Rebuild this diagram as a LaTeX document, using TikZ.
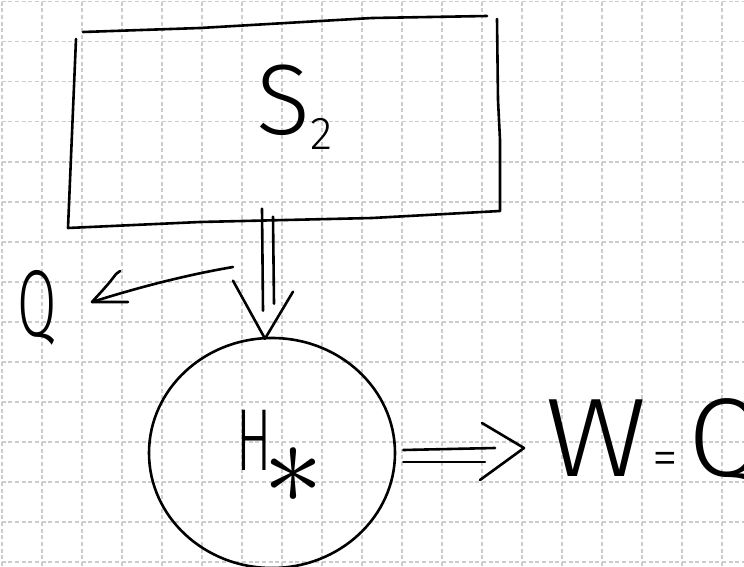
\RequirePackage{fix-cm}
\documentclass[tikz,border=0pt]{standalone}
\usepackage{fontspec}
\usepackage{graphicx}
\newfontfamily\hand{Fira Sans Light}
\usetikzlibrary{shapes.geometric,calc}
\tikzset{
  pen/.style={line width=2.6pt, line cap=round, line join=round, black},
  gridline/.style={line width=1.6pt, draw=gray!40, dash pattern=on 4pt off 2.67pt},
  txt/.style={inner sep=0pt, font=\hand}
}
\begin{document}
\begin{tikzpicture}[x=1pt,y=-1pt]
\useasboundingbox (0,0) rectangle (744,567);
\clip (0,0) rectangle (744,567);
\fill[white] (0,0) rectangle (744,567);
% grid paper
\foreach \i in {0,...,18} \draw[gridline] (1.7+40*\i,-38.3) -- (1.7+40*\i,600);
\foreach \j in {0,...,14} \draw[gridline] (-38.3,1.7+40*\j) -- (780,1.7+40*\j);

% box S2
\coordinate (btl) at (83,32);
\coordinate (btr) at (487,16);
\coordinate (brt) at (497,19);
\coordinate (bbr) at (500,211);
\coordinate (bbl) at (68,228);
\coordinate (blt) at (76,39);
\draw[pen] (btl) -- (200,28) -- (372,18) -- (btr);
\draw[pen] (brt) -- (498,100) -- (500,140) -- (bbr) -- (372,218) -- (200,222) -- (bbl) -- (blt);
\node[txt, anchor=base west] (s2) at (256,135)
  {\fontsize{100}{100}\selectfont S\raisebox{-15pt}{\fontsize{46}{46}\selectfont 2}};

% circle
\node[pen, draw, ellipse, minimum width=246pt, minimum height=230pt, inner sep=0pt] (eng) at (272,453) {};
\node[txt, anchor=base west] (hx) at (236,470)
  {\scalebox{0.6}[1]{\fontsize{88}{88}\selectfont H}\hspace{-8pt}\raisebox{-33pt}{\fontsize{120}{120}\selectfont$\ast$}};

% down double arrow
\path (eng.north) ++(-7,2) coordinate (dtip);
\draw[pen] ($(dtip)+(-3,-130)$) -- ($(dtip)+(-2,-28)$);
\draw[pen] ($(dtip)+(8,-122)$) -- ($(dtip)+(9,-35)$);
\draw[pen] ($(dtip)+(-32,-58)$) -- (dtip) -- ($(dtip)+(28,-47)$);

% Q arrow
\node[txt, anchor=base] (q1) at (37,336) {\scalebox{0.6}[1]{\fontsize{95}{95}\selectfont Q}};
\coordinate (qs) at (233,267);
\coordinate (qtip) at (92,302);
\draw[pen] (qs) .. controls (180,276) and (130,290) .. (qtip);
\draw[pen] (120,271) -- (116,274) .. controls (108,285) and (100,293) .. (qtip) -- (128,302);

% right double arrow
\path (eng.east) ++(7,-3) coordinate (rs);
\coordinate (rtip) at (524,448);
\draw[pen] (rs) -- ($(rtip)+(-29,0)$);
\draw[pen] ($(rs)+(0,12)$) -- ($(rtip)+(-39,14)$);
\draw[pen] ($(rtip)+(-42,-25)$) -- (rtip) -- ($(rtip)+(-44,32)$);
\node[txt, anchor=base west] (wq) at (545,476)
  {\fontsize{112}{112}\selectfont\scalebox{1.12}[1]{W}\hspace{6pt}\raisebox{1pt}{\fontsize{52}{52}\selectfont =}\hspace{10pt}Q};
\end{tikzpicture}
\end{document}
